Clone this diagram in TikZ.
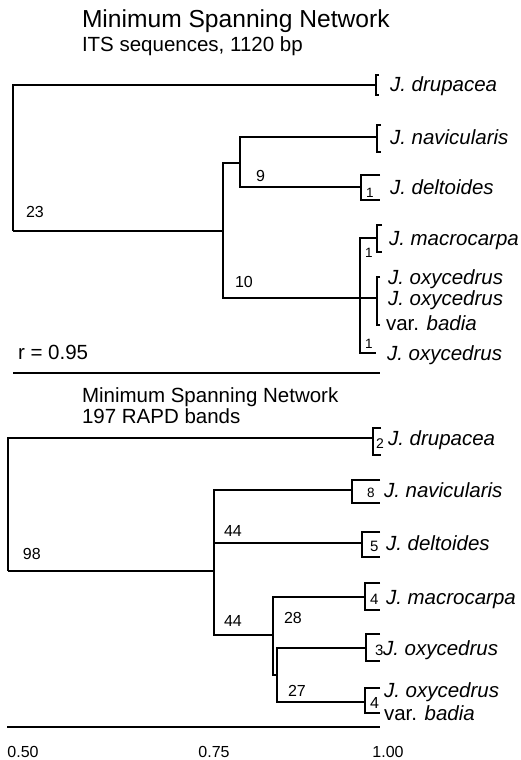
\documentclass[tikz,border=0pt]{standalone}
\usepackage{fontspec}
\setmainfont{Liberation Sans}
\newcommand{\brk}[4]{\draw (#1+#4,#2) -- (#1,#2) -- (#1,#3) -- (#1+#4,#3);}
\newcommand{\fs}[1]{\fontsize{#1}{#1}\selectfont}

\begin{document}
\begin{tikzpicture}[x=1pt,y=-1pt,line width=2pt,
    title/.style={anchor=base west, inner sep=0pt, font=\fs{24.6}},
    subtitle/.style={anchor=base west, inner sep=0pt, font=\fs{20.5}},
    taxon/.style={anchor=base west, inner sep=0pt, font=\fs{20.5}\itshape},
    num/.style={anchor=base west, inner sep=0pt, font=\fs{16}},
    bnum/.style={anchor=base west, inner sep=0pt, font=\fs{13.5}},
    tick/.style={anchor=base, inner sep=0pt, font=\fs{16}}]
    \useasboundingbox (0,0) rectangle (520,760);
    \node[title]    (titleT) at (81,28)  {Minimum Spanning Network};
    \node[subtitle] (subT)   at (81,52)  {ITS sequences, 1120 bp};
    \node[taxon] (druT) at (389,91)  {J. drupacea};
    \node[taxon] (navT) at (389,144) {J. navicularis};
    \node[taxon] (delT) at (389,194) {J. deltoides};
    \node[taxon] (macT) at (388,245) {J. macrocarpa};
    \node[taxon] (oxaT) at (387,284) {J. oxycedrus};
    \node[taxon] (oxbT) at (387,305) {J. oxycedrus};
    \node[taxon] (varT) at (385,330) {\upshape var. \itshape badia};
    \node[taxon] (oxcT) at (386,360) {J. oxycedrus};
    \coordinate (rt)   at (13,231);
    \coordinate (ka)   at (223,231);
    \coordinate (k9)   at (240,163);
    \coordinate (k1)   at (360,298);
    \coordinate (eDru) at (376,85);
    \coordinate (eNav) at (377,137);
    \coordinate (eDel) at (361,187);
    \coordinate (eMac) at (377,238);
    \coordinate (eOxy) at (377,298);
    \coordinate (eOxc) at (376,353);
    \draw (rt) |- (eDru);
    \draw (rt) -- (ka);
    \draw (k9) -| (ka) |- (eOxy);
    \draw (eNav) -| (k9) |- (eDel);
    \draw (eMac) -| (k1) |- (eOxc);
    \brk{376}{75}{95}{3}
    \brk{377}{125}{152}{4}
    \brk{361}{175}{200}{19}
    \brk{377}{225}{252}{5}
    \brk{377}{277}{325}{3}
    \node[num]  (l23) at (25,217)  {23};
    \node[num]  (l9)  at (255,181) {9};
    \node[num]  (l10) at (234,287) {10};
    \node[bnum] (l1a) at (365,197) {1};
    \node[bnum] (l1b) at (364,257) {1};
    \node[bnum] (l1c) at (364,348) {1};
    \node[subtitle] (rval) at (17,359) {r = 0.95};
    \draw (13,373) -- (380,373);
    \node[subtitle] (titleB) at (81,402) {Minimum Spanning Network};
    \node[subtitle] (subB)   at (81,423) {197 RAPD bands};
    \node[taxon] (druB) at (387,445) {J. drupacea};
    \node[taxon] (navB) at (383,497) {J. navicularis};
    \node[taxon] (delB) at (385,550) {J. deltoides};
    \node[taxon] (macB) at (385,604) {J. macrocarpa};
    \node[taxon] (oxyB) at (382,655) {J. oxycedrus};
    \node[taxon] (badB) at (383,697) {J. oxycedrus};
    \node[taxon] (varB) at (383,720) {\upshape var. \itshape badia};
    \coordinate (rb)    at (8,571);
    \coordinate (kb)    at (214,571);
    \coordinate (k28)   at (273,635);
    \coordinate (k27)   at (277,675);
    \coordinate (eDruB) at (373,438);
    \coordinate (eNavB) at (352,490);
    \coordinate (eDelB) at (362,543);
    \coordinate (eMacB) at (365,597);
    \coordinate (eOxyB) at (366,648);
    \coordinate (eBadB) at (365,702);
    \draw (rb) |- (eDruB);
    \draw (rb) -- (kb);
    \draw (eNavB) -| (kb) |- (k28);
    \draw (kb |- eDelB) -- (eDelB);
    \draw (eMacB) -| (k28) |- (k27);
    \draw (eOxyB) -| (k27) |- (eBadB);
    \brk{373}{428}{455}{8}
    \brk{352}{480}{503}{28}
    \brk{362}{532}{557}{18}
    \brk{365}{583}{610}{15}
    \brk{366}{634}{661}{14}
    \brk{365}{688}{713}{15}
    \node[num]  (l98)  at (22,559)  {98};
    \node[num]  (l44a) at (223,536) {44};
    \node[num]  (l44b) at (223,626) {44};
    \node[num]  (l28)  at (283,623) {28};
    \node[num]  (l27)  at (287,696) {27};
    \node[bnum] (l2)   at (375,448) {\fs{14}2};
    \node[bnum] (l8)   at (366,497) {8};
    \node[bnum] (l5)   at (369,551) {\fs{15}5};
    \node[bnum] (l4a)  at (369,604) {\fs{15}4};
    \node[bnum] (l3)   at (374,655) {\fs{15}3};
    \node[num]  (l4b)  at (369,708) {4};
    \draw (7,727) -- (380,727);
    \node[tick] (t050) at (23,757)  {0.50};
    \node[tick] (t075) at (214,757) {0.75};
    \node[tick] (t100) at (388,757) {1.00};
\end{tikzpicture}
\end{document}
